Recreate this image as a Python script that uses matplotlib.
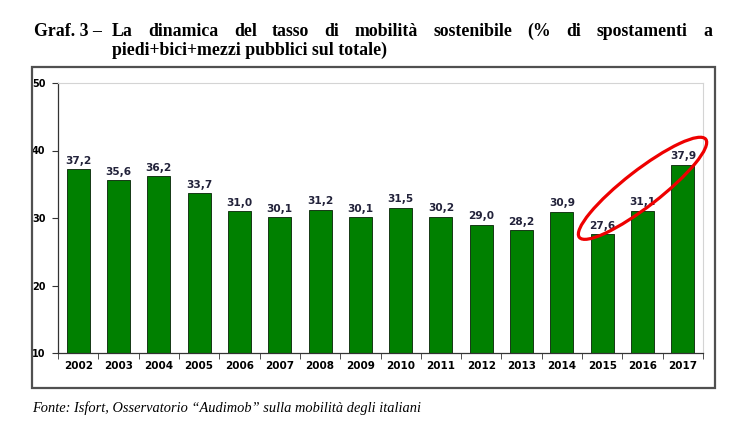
import numpy as np
import matplotlib
matplotlib.use('Agg')
import matplotlib.pyplot as plt
import matplotlib.transforms as mtransforms
from matplotlib.patches import Rectangle, Ellipse

years = ['2002', '2003', '2004', '2005', '2006', '2007', '2008', '2009',
         '2010', '2011', '2012', '2013', '2014', '2015', '2016', '2017']
values = [37.2, 35.6, 36.2, 33.7, 31.0, 30.1, 31.2, 30.1,
          31.5, 30.2, 29.0, 28.2, 30.9, 27.6, 31.1, 37.9]
y_ticks = [10, 20, 30, 40, 50]

title_line1 = ['La', 'dinamica', 'del', 'tasso', 'di', 'mobilità', 'sostenibile',
               '(%', 'di', 'spostamenti', 'a']
title_line2 = 'piedi+bici+mezzi pubblici sul totale)'
source = 'Fonte: Isfort, Osservatorio \u201cAudimob\u201d sulla mobilità degli italiani'

W, H = 742, 432
fig = plt.figure(figsize=(W / 100, H / 100), dpi=100)

# outer frame around the chart
fig.patches.append(Rectangle((32 / W, 1 - 388 / H), 683 / W, 321 / H,
                             transform=fig.transFigure, fill=False,
                             edgecolor='#505050', linewidth=1.6))

ax = fig.add_axes([58 / W, 1 - 353 / H, 645 / W, 270 / H])
x = np.arange(len(years))
ax.bar(x, values, width=0.57, color='#008000', edgecolor='#163816', linewidth=0.7)

for xi, v in zip(x, values):
    ax.annotate(f'{v:.1f}'.replace('.', ','), (xi, v), xytext=(0, 2.5),
                textcoords='offset points', ha='center', va='bottom',
                fontsize=7.6, fontweight='bold', color='#22223a')

ax.set_xlim(-0.5, len(years) - 0.5)
ax.set_ylim(10, 50)
ax.set_yticks(y_ticks)
ax.set_yticklabels([str(t) for t in y_ticks], fontsize=7, fontweight='bold')
ax.set_xticks(x)
ax.set_xticklabels(years, fontsize=7.5, fontweight='bold')
ax.tick_params(axis='x', which='major', length=0, pad=6)
ax.set_xticks(np.arange(len(years) + 1) - 0.5, minor=True)
ax.tick_params(axis='x', which='minor', length=4, direction='out', color='#333333')
ax.tick_params(axis='y', length=4, direction='out', color='#333333', pad=5)
for s in ['top', 'right']:
    ax.spines[s].set_color('#d4d4d4')
for s in ['left', 'bottom']:
    ax.spines[s].set_color('#333333')
    ax.spines[s].set_linewidth(0.9)

# red ellipse highlighting the last three years
to_px = mtransforms.Affine2D() + mtransforms.ScaledTranslation(14, 34.4, ax.transData)
ax.add_patch(Ellipse((0, 0), 160, 36, angle=37.8, transform=to_px, fill=False,
                     edgecolor='#ee0000', linewidth=2.3, clip_on=False, zorder=5))

# title, first line justified between "Graf. 3 –" and the right margin
tfont = dict(family='Liberation Serif', fontweight='bold', fontsize=12.8, color='black')
fig.text(34 / W, 1 - 31 / H, 'Graf. 3 \u2013', va='center', ha='left', **tfont)
words = [fig.text(0, 1 - 31 / H, w, va='center', ha='left', **tfont) for w in title_line1]
fig.text(112 / W, 1 - 50 / H, title_line2, va='center', ha='left', **tfont)
fig.text(32 / W, 1 - 408 / H, source, va='center', ha='left',
         family='Liberation Serif', style='italic', fontsize=10.4)

fig.canvas.draw()
r = fig.canvas.get_renderer()
widths = [t.get_window_extent(r).width for t in words]
left, right = 112, 712
gap = (right - left - sum(widths)) / (len(words) - 1)
pos = left
for t, w in zip(words, widths):
    t.set_x(pos / W)
    pos += w + gap

fig.savefig('out.png', dpi=100)
